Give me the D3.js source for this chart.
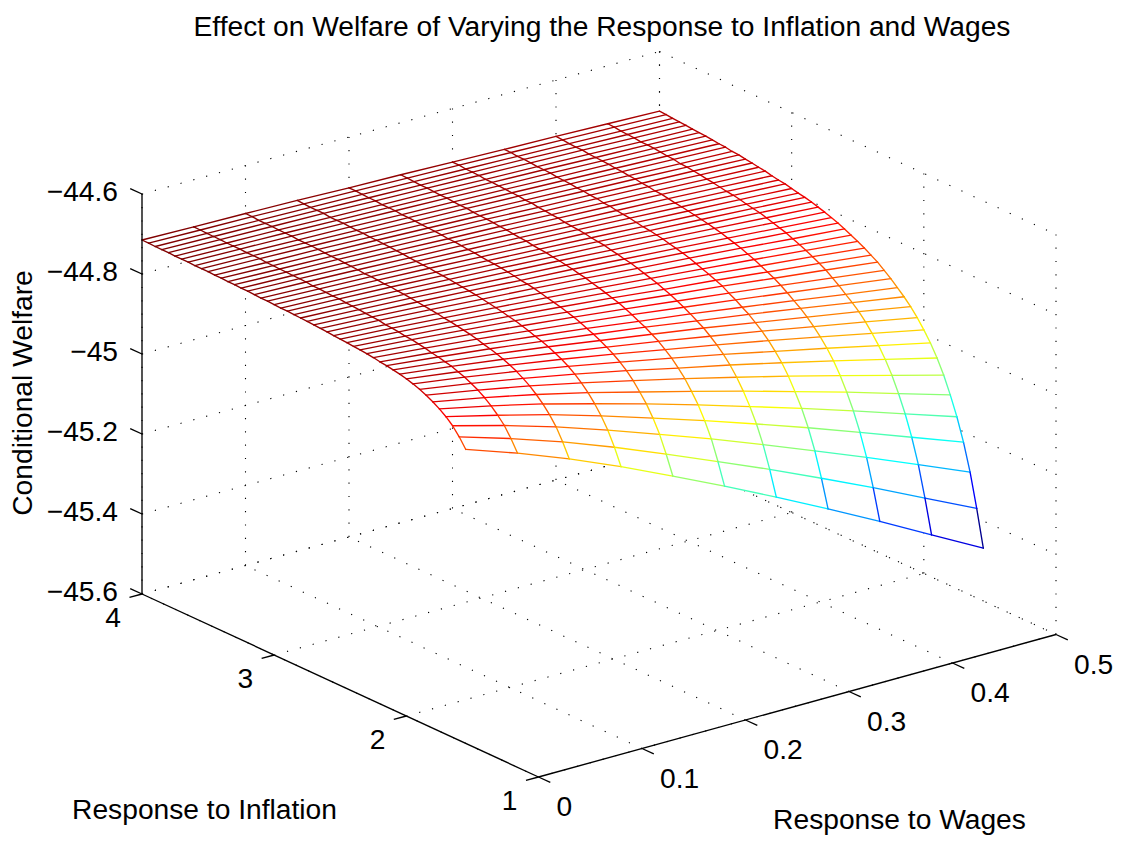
<!DOCTYPE html>
<html>
<head>
<meta charset="utf-8">
<script src="https://cdn.jsdelivr.net/npm/d3@7"></script>
<style>
  html, body { margin: 0; background: #fff; }
  text { font-family: "Liberation Sans", Arial, sans-serif; fill: #000; }
</style>
</head>
<body>
<div id="chart"></div>
<script>
const titleText = 'Effect on Welfare of Varying the Response to Inflation and Wages';
const wageTicks = [0, 0.1, 0.2, 0.3, 0.4, 0.5];
const inflationTicks = [1, 2, 3, 4];
const welfareTicks = [-45.6, -45.4, -45.2, -45, -44.8, -44.6];

const wageGrid = [0, 0.05, 0.1, 0.15, 0.2, 0.25, 0.3, 0.35, 0.4, 0.45, 0.5];
const inflationGrid = [1.55, 1.6, 1.65, 1.7, 1.75, 1.8, 1.85, 1.9, 1.95, 2, 2.05, 2.1, 2.15, 2.2, 2.25, 2.3, 2.35, 2.4, 2.45, 2.5,
  2.55, 2.6, 2.65, 2.7, 2.75, 2.8, 2.85, 2.9, 2.95, 3, 3.05, 3.1, 3.15, 3.2, 3.25, 3.3, 3.35, 3.4, 3.45, 3.5,
  3.55, 3.6, 3.65, 3.7, 3.75, 3.8, 3.85, 3.9, 3.95, 4];

// one row per inflation response, one column per wage response
const welfare = [
  [-44.865, -44.910, -44.960, -45.015, -45.074, -45.135, -45.198, -45.263, -45.330, -45.399, -45.468],
  [-44.841, -44.881, -44.925, -44.974, -45.027, -45.081, -45.136, -45.194, -45.253, -45.315, -45.376],
  [-44.821, -44.856, -44.895, -44.939, -44.985, -45.032, -45.082, -45.133, -45.185, -45.239, -45.293],
  [-44.806, -44.838, -44.872, -44.911, -44.952, -44.994, -45.038, -45.083, -45.130, -45.178, -45.226],
  [-44.794, -44.822, -44.853, -44.888, -44.924, -44.962, -45.002, -45.042, -45.084, -45.127, -45.170],
  [-44.784, -44.809, -44.837, -44.868, -44.902, -44.936, -44.971, -45.008, -45.045, -45.084, -45.123],
  [-44.775, -44.798, -44.823, -44.851, -44.881, -44.912, -44.944, -44.977, -45.011, -45.046, -45.081],
  [-44.768, -44.789, -44.812, -44.837, -44.864, -44.893, -44.921, -44.951, -44.982, -45.014, -45.046],
  [-44.762, -44.781, -44.802, -44.825, -44.850, -44.876, -44.902, -44.930, -44.958, -44.987, -45.016],
  [-44.757, -44.775, -44.794, -44.815, -44.838, -44.862, -44.886, -44.911, -44.937, -44.964, -44.991],
  [-44.753, -44.769, -44.787, -44.807, -44.828, -44.849, -44.872, -44.895, -44.919, -44.943, -44.968],
  [-44.750, -44.765, -44.781, -44.799, -44.819, -44.839, -44.859, -44.881, -44.903, -44.925, -44.948],
  [-44.747, -44.761, -44.776, -44.793, -44.811, -44.829, -44.849, -44.868, -44.889, -44.910, -44.931],
  [-44.745, -44.758, -44.772, -44.788, -44.804, -44.822, -44.839, -44.858, -44.877, -44.897, -44.916],
  [-44.742, -44.754, -44.767, -44.782, -44.797, -44.813, -44.830, -44.847, -44.865, -44.883, -44.901],
  [-44.740, -44.751, -44.763, -44.777, -44.791, -44.806, -44.822, -44.838, -44.854, -44.871, -44.888],
  [-44.738, -44.748, -44.760, -44.772, -44.786, -44.799, -44.814, -44.828, -44.844, -44.859, -44.875],
  [-44.737, -44.747, -44.757, -44.769, -44.781, -44.794, -44.808, -44.821, -44.836, -44.850, -44.865],
  [-44.735, -44.744, -44.754, -44.765, -44.777, -44.789, -44.801, -44.814, -44.828, -44.841, -44.855],
  [-44.734, -44.742, -44.752, -44.762, -44.773, -44.784, -44.796, -44.808, -44.820, -44.833, -44.846],
  [-44.733, -44.741, -44.749, -44.759, -44.769, -44.780, -44.791, -44.802, -44.814, -44.826, -44.838],
  [-44.731, -44.738, -44.747, -44.756, -44.765, -44.775, -44.786, -44.796, -44.807, -44.819, -44.830],
  [-44.730, -44.737, -44.745, -44.753, -44.762, -44.772, -44.781, -44.791, -44.802, -44.812, -44.823],
  [-44.729, -44.736, -44.743, -44.751, -44.760, -44.768, -44.778, -44.787, -44.797, -44.807, -44.817],
  [-44.728, -44.734, -44.741, -44.749, -44.757, -44.765, -44.774, -44.783, -44.792, -44.802, -44.811],
  [-44.727, -44.733, -44.739, -44.747, -44.754, -44.762, -44.771, -44.779, -44.788, -44.797, -44.806],
  [-44.726, -44.732, -44.738, -44.745, -44.752, -44.760, -44.767, -44.776, -44.784, -44.792, -44.801],
  [-44.725, -44.730, -44.736, -44.743, -44.750, -44.757, -44.765, -44.773, -44.781, -44.789, -44.797],
  [-44.725, -44.730, -44.736, -44.742, -44.749, -44.756, -44.763, -44.771, -44.778, -44.786, -44.794],
  [-44.724, -44.729, -44.734, -44.740, -44.747, -44.754, -44.760, -44.768, -44.775, -44.782, -44.790],
  [-44.723, -44.728, -44.733, -44.739, -44.745, -44.751, -44.758, -44.765, -44.772, -44.779, -44.786],
  [-44.723, -44.728, -44.733, -44.738, -44.744, -44.750, -44.757, -44.763, -44.770, -44.777, -44.784],
  [-44.722, -44.726, -44.731, -44.737, -44.742, -44.748, -44.755, -44.761, -44.767, -44.774, -44.781],
  [-44.721, -44.725, -44.730, -44.735, -44.740, -44.746, -44.752, -44.758, -44.764, -44.771, -44.777],
  [-44.721, -44.725, -44.729, -44.734, -44.740, -44.745, -44.751, -44.757, -44.763, -44.769, -44.775],
  [-44.720, -44.724, -44.728, -44.733, -44.738, -44.743, -44.749, -44.754, -44.760, -44.766, -44.772],
  [-44.720, -44.724, -44.728, -44.732, -44.737, -44.742, -44.748, -44.753, -44.759, -44.764, -44.770],
  [-44.719, -44.723, -44.727, -44.731, -44.736, -44.741, -44.745, -44.751, -44.756, -44.762, -44.767],
  [-44.719, -44.723, -44.726, -44.731, -44.735, -44.740, -44.745, -44.750, -44.755, -44.761, -44.766],
  [-44.718, -44.721, -44.725, -44.729, -44.734, -44.738, -44.743, -44.748, -44.753, -44.758, -44.763],
  [-44.718, -44.721, -44.725, -44.729, -44.733, -44.738, -44.742, -44.747, -44.752, -44.757, -44.762],
  [-44.718, -44.721, -44.725, -44.728, -44.733, -44.737, -44.741, -44.746, -44.750, -44.755, -44.760],
  [-44.717, -44.720, -44.723, -44.727, -44.731, -44.735, -44.740, -44.744, -44.749, -44.753, -44.758],
  [-44.717, -44.720, -44.723, -44.727, -44.731, -44.735, -44.739, -44.743, -44.748, -44.752, -44.757],
  [-44.717, -44.720, -44.723, -44.727, -44.731, -44.734, -44.739, -44.743, -44.747, -44.752, -44.756],
  [-44.716, -44.719, -44.722, -44.725, -44.729, -44.733, -44.737, -44.741, -44.745, -44.750, -44.754],
  [-44.716, -44.719, -44.722, -44.725, -44.729, -44.733, -44.736, -44.740, -44.745, -44.749, -44.753],
  [-44.716, -44.719, -44.722, -44.725, -44.728, -44.732, -44.736, -44.740, -44.744, -44.748, -44.752],
  [-44.715, -44.718, -44.720, -44.724, -44.727, -44.731, -44.734, -44.738, -44.742, -44.746, -44.750],
  [-44.715, -44.718, -44.720, -44.723, -44.727, -44.730, -44.734, -44.738, -44.741, -44.745, -44.749]
];

const jetStops = [0, 0.125, 0.375, 0.625, 0.875, 1];
const jetColors = ['#00008f', '#0000ff', '#00ffff', '#ffff00', '#ff0000', '#800000'];

const width = 1122, height = 842;
const originX = 538.5, originY = 777;
const tickLength = 13;

const svg = d3.select('#chart').append('svg')
  .attr('width', width)
  .attr('height', height)
  .style('display', 'block');

// oblique projection of the box: each data axis moves a point along its own screen vector
const wageX = d3.scaleLinear().domain([0, 0.5]).range([0, 517.5]);
const wageY = d3.scaleLinear().domain([0, 0.5]).range([0, -142.5]);
const inflationX = d3.scaleLinear().domain([1, 4]).range([0, -396.5]);
const inflationY = d3.scaleLinear().domain([1, 4]).range([0, -183]);
const welfareY = d3.scaleLinear().domain([-45.6, -44.6]).range([0, -400]);

const project = (w, i, z) => [
  originX + wageX(w) + inflationX(i),
  originY + wageY(w) + inflationY(i) + welfareY(z)
];

const allZ = welfare.flat();
const colorT = d3.scaleLinear().domain(d3.extent(allZ)).range([0, 1]);
const jet = d3.scaleLinear().domain(jetStops).range(jetColors).interpolate(d3.interpolateRgb);

// dotted grid on the floor and the two far walls
const zMin = welfareTicks[0], zMax = welfareTicks[welfareTicks.length - 1];
const wMax = wageTicks[wageTicks.length - 1];
const iMin = inflationTicks[0], iMax = inflationTicks[inflationTicks.length - 1];

const gridSegments = [];
wageTicks.forEach(w => {
  gridSegments.push([project(w, iMin, zMin), project(w, iMax, zMin)]);
  gridSegments.push([project(w, iMax, zMin), project(w, iMax, zMax)]);
});
inflationTicks.forEach(i => {
  gridSegments.push([project(0, i, zMin), project(wMax, i, zMin)]);
  gridSegments.push([project(wMax, i, zMin), project(wMax, i, zMax)]);
});
welfareTicks.forEach(z => {
  gridSegments.push([project(0, iMax, z), project(wMax, iMax, z)]);
  gridSegments.push([project(wMax, iMax, z), project(wMax, iMin, z)]);
});

svg.append('g').selectAll('line')
  .data(gridSegments)
  .enter()
  .append('line')
  .attr('x1', d => d[0][0])
  .attr('y1', d => d[0][1])
  .attr('x2', d => d[1][0])
  .attr('y2', d => d[1][1])
  .attr('stroke', '#000')
  .attr('stroke-width', 1.1)
  .attr('stroke-dasharray', '1.2 12.1');

// white faces hide the grid behind the mesh
const cells = [];
const rowSegments = [];
const colSegments = [];
inflationGrid.forEach((inf, r) => {
  wageGrid.forEach((wage, c) => {
    const p = project(wage, inf, welfare[r][c]);
    const t = colorT(welfare[r][c]);
    if (c < wageGrid.length - 1) {
      rowSegments.push({from: p, to: project(wageGrid[c + 1], inf, welfare[r][c + 1]), t});
    }
    if (r < inflationGrid.length - 1) {
      colSegments.push({from: p, to: project(wage, inflationGrid[r + 1], welfare[r + 1][c]), t});
    }
    if (c < wageGrid.length - 1 && r < inflationGrid.length - 1) {
      cells.push([
        p,
        project(wageGrid[c + 1], inf, welfare[r][c + 1]),
        project(wageGrid[c + 1], inflationGrid[r + 1], welfare[r + 1][c + 1]),
        project(wage, inflationGrid[r + 1], welfare[r + 1][c])
      ]);
    }
  });
});

svg.append('g').selectAll('polygon')
  .data(cells)
  .enter()
  .append('polygon')
  .attr('points', d => d.map(p => p.join(',')).join(' '))
  .attr('fill', '#fff')
  .attr('stroke', '#fff')
  .attr('stroke-width', 0.5);

svg.append('g').selectAll('line')
  .data(rowSegments.concat(colSegments))
  .enter()
  .append('line')
  .attr('x1', d => d.from[0])
  .attr('y1', d => d.from[1])
  .attr('x2', d => d.to[0])
  .attr('y2', d => d.to[1])
  .attr('stroke', d => jet(d.t))
  .attr('stroke-width', 1.35)
  .attr('stroke-linecap', 'round');

// axis lines
const axisSegments = [
  [project(0, iMin, zMin), project(wMax, iMin, zMin)],
  [project(0, iMin, zMin), project(0, iMax, zMin)],
  [project(0, iMax, zMin), project(0, iMax, zMax)]
];

// ticks run along the neighbouring floor edge
const wageDir = [517.5, -142.5].map(v => v / Math.hypot(517.5, 142.5));
const inflationDir = [-396.5, -183].map(v => v / Math.hypot(396.5, 183));

const tickSegments = [];
wageTicks.forEach(w => {
  const p = project(w, iMin, zMin);
  tickSegments.push([p, [p[0] - inflationDir[0] * tickLength, p[1] - inflationDir[1] * tickLength]]);
});
inflationTicks.forEach(i => {
  const p = project(0, i, zMin);
  tickSegments.push([p, [p[0] - wageDir[0] * tickLength, p[1] - wageDir[1] * tickLength]]);
});
welfareTicks.forEach(z => {
  const p = project(0, iMax, z);
  tickSegments.push([p, [p[0] + inflationDir[0] * tickLength, p[1] + inflationDir[1] * tickLength]]);
});

svg.append('g').selectAll('line')
  .data(axisSegments.concat(tickSegments))
  .enter()
  .append('line')
  .attr('x1', d => d[0][0])
  .attr('y1', d => d[0][1])
  .attr('x2', d => d[1][0])
  .attr('y2', d => d[1][1])
  .attr('stroke', '#000')
  .attr('stroke-width', 1.35);

// tick labels
const fontSize = 28.2;
const addText = (x, y, str, anchor) => svg.append('text')
  .attr('x', x)
  .attr('y', y)
  .attr('text-anchor', anchor)
  .attr('font-size', fontSize)
  .text(str);

wageTicks.forEach(w => {
  const p = project(w, iMin, zMin);
  addText(p[0] + 18, p[1] + 39, String(w), 'start');
});
inflationTicks.forEach(i => {
  const p = project(0, i, zMin);
  addText(p[0] - 21, p[1] + 33, String(i), 'end');
});
welfareTicks.forEach(z => {
  const p = project(0, iMax, z);
  addText(p[0] - 24, p[1] + 7, String(z).replace('-', '\u2212'), 'end');
});

addText(602, 36, titleText, 'middle');
addText(204.5, 819, 'Response to Inflation', 'middle');
addText(899.5, 829, 'Response to Wages', 'middle');
svg.append('text')
  .attr('transform', 'translate(32,393) rotate(-90)')
  .attr('text-anchor', 'middle')
  .attr('font-size', fontSize)
  .text('Conditional Welfare');
</script>
</body>
</html>
